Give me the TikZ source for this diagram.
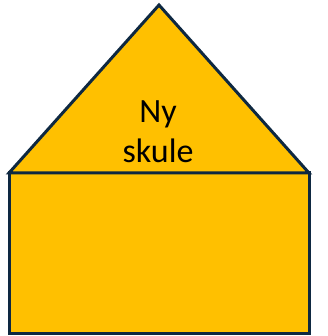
\documentclass[tikz,border=0pt]{standalone}
\usepackage{fontspec}
\setmainfont{Carlito}
\usepackage{xcolor}
\usepackage{tikz}

\definecolor{roofgold}{HTML}{FFC000}
\definecolor{edgenavy}{HTML}{0E2841}

\begin{document}
\begin{tikzpicture}[x=1pt, y=-1pt,
                    wall/.style={fill=roofgold, draw=edgenavy, line width=3pt, line join=miter},
                    label/.style={align=center, font=\fontsize{34}{40}\selectfont, text=black}]
  \useasboundingbox (0,0) rectangle (327,336);
  % corners
  \coordinate (top) at (159,5);
  \coordinate (tl) at (9,173);
  \coordinate (tr) at (309,173);
  \coordinate (br) at (309,333);
  % house
  \draw[wall] (tl) rectangle (br);
  \draw[wall] (tl) -- (top) -- (tr) -- cycle;
  \node[label] (name) at (158,132) {Ny\\skule};
\end{tikzpicture}
\end{document}
